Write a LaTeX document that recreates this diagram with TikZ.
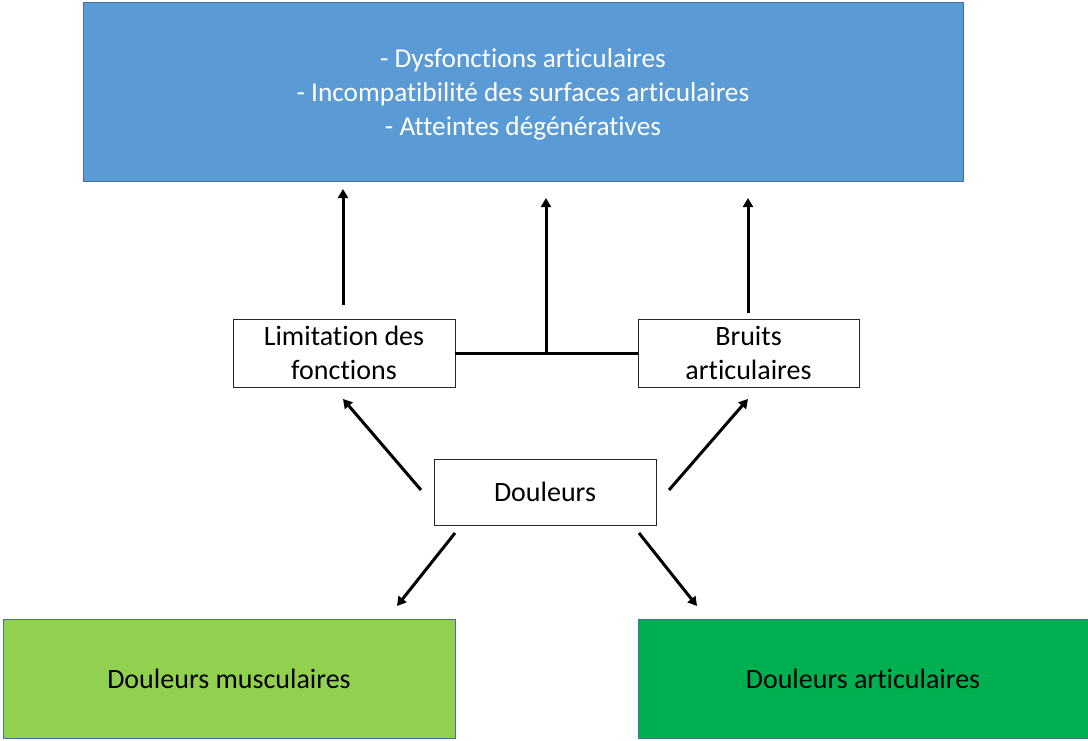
\documentclass[tikz,border=0pt]{standalone}
\usepackage{fontspec}
\setmainfont{Carlito}[Ligatures={NoCommon}]
\usetikzlibrary{arrows.meta}
\definecolor{topblue}{HTML}{5B9BD5}
\definecolor{edgeblue}{HTML}{41719C}
\definecolor{lightgreen}{HTML}{92D050}
\definecolor{darkgreen}{HTML}{00B050}
\begin{document}
\begin{tikzpicture}[x=1pt,y=-1pt,
  bigbox/.style={draw=edgeblue,line width=0.8pt,inner sep=0pt,align=center},
  whitebox/.style={draw=black!85,line width=0.9pt,fill=white,inner sep=0pt,align=center,font=\fontsize{28}{34}\selectfont},
  conn/.style={line width=3pt,draw=black},
  arr/.style={conn,-{Triangle[length=9pt,width=10pt]}}]
\useasboundingbox (0,0) rectangle (1088,740);
\node[bigbox,fill=topblue,minimum width=880pt,minimum height=179pt] (top) at (523,91.5) {};
\node[text=white,align=center,inner sep=0pt,font=\fontsize{27.3}{34}\selectfont] (toptext) at (523,94.5)
  {- Dysfonctions articulaires\\- Incompatibilité des surfaces articulaires\\- Atteintes dégénératives};
\node[whitebox,minimum width=222pt,minimum height=68pt] (lim) at (344,353) {Limitation des\\fonctions};
\node[whitebox,minimum width=221pt,minimum height=68pt] (bru) at (748.5,353) {Bruits\\articulaires};
\node[whitebox,minimum width=222pt,minimum height=66pt] (dou) at (545,492) {Douleurs};
\node[bigbox,fill=lightgreen,minimum width=452pt,minimum height=119pt,font=\fontsize{28}{34}\selectfont] (mus) at (229,678.5) {Douleurs musculaires};
\node[bigbox,fill=darkgreen,minimum width=450pt,minimum height=119pt,font=\fontsize{28}{34}\selectfont] (art) at (863,678.5) {Douleurs articulaires};
% coordinates for arrow ends
\coordinate (l0) at (343,305); \coordinate (l1) at (343,189);
\coordinate (m0) at (546,353); \coordinate (m1) at (546,198);
\coordinate (r0) at (748,313); \coordinate (r1) at (748,198);
\coordinate (a0) at (421,490); \coordinate (a1) at (343,399);
\coordinate (b0) at (669,490); \coordinate (b1) at (748,399);
\coordinate (c0) at (455,533); \coordinate (c1) at (397,606);
\coordinate (d0) at (639,533); \coordinate (d1) at (697,606);
\draw[conn] (lim.east) -- (bru.west);
\draw[arr] (m0) -- (m1);
\draw[arr] (l0) -- (l1);
\draw[arr] (r0) -- (r1);
\draw[arr] (a0) -- (a1);
\draw[arr] (b0) -- (b1);
\draw[arr] (c0) -- (c1);
\draw[arr] (d0) -- (d1);
\end{tikzpicture}
\end{document}
